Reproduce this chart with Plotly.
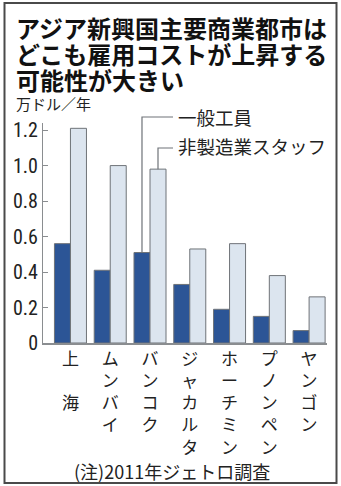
import plotly.graph_objects as go

cities = ["上<br> <br>海", "ム<br>ン<br>バ<br>イ", "バ<br>ン<br>コ<br>ク", "ジ<br>ャ<br>カ<br>ル<br>タ",
          "ホ<br>ー<br>チ<br>ミ<br>ン", "プ<br>ノ<br>ン<br>ペ<br>ン", "ヤ<br>ン<br>ゴ<br>ン"]
workers = [0.56, 0.41, 0.51, 0.33, 0.19, 0.15, 0.07]
staff = [1.21, 1.00, 0.98, 0.53, 0.56, 0.38, 0.26]
tick_vals = [0, 0.2, 0.4, 0.6, 0.8, 1.0, 1.2]
tick_text = ["0", "0.2", "0.4", "0.6", "0.8", "1.0", "1.2"]
title_lines = ["アジア新興国主要商業都市は", "どこも雇用コストが上昇する", "可能性が大きい"]

W, H = 341, 486
ML, MR, MT, MB = 43, 14, 123, 143
PW, PH = W - ML - MR, H - MT - MB
YMAX = 1.24
XR = [-0.69, 6.45]
JP = "Noto Sans CJK JP, Noto Sans, sans-serif"
NUM = "Liberation Sans Narrow, Roboto Condensed, Arial Narrow, Liberation Sans, sans-serif"

def px_to_py(py):  # pixel y -> paper y
    return (H - MB - py) / PH

def px_to_px(px):  # pixel x -> paper x
    return (px - ML) / PW

def px_to_dx(px):  # pixel x -> data x
    return (px - ML) / PW * (XR[1] - XR[0]) + XR[0]

x = list(range(len(cities)))
fig = go.Figure()
fig.add_bar(x=x, y=workers, name="一般工員", marker=dict(color="#2c5596", line=dict(color="#6f7378", width=1)))
fig.add_bar(x=x, y=staff, name="非製造業スタッフ", marker=dict(color="#dce5ef", line=dict(color="#6f7378", width=1)))

fig.update_layout(
    width=W, height=H, margin=dict(l=ML, r=MR, t=MT, b=MB),
    paper_bgcolor="white", plot_bgcolor="white",
    barmode="group", bargap=0.195, bargroupgap=0,
    showlegend=False,
    xaxis=dict(range=XR, tickvals=x, ticktext=cities, showgrid=False, zeroline=False,
               showline=True, linecolor="#8a8d90", linewidth=1.5, ticks="",
               tickfont=dict(family=JP, size=17, color="#222"), tickangle=0),
    yaxis=dict(range=[0, YMAX], tickvals=tick_vals, ticktext=tick_text, showgrid=False, zeroline=False,
               showline=True, linecolor="#8a8d90", linewidth=1, ticks="inside", ticklen=5, tickcolor="#8a8d90",
               tickfont=dict(family=NUM, size=20, color="#222")),
)

# leader lines from Bangkok bars to legend labels
groupw = 1 - 0.195
barw = groupw / 2
bi = 2
xd = bi - barw / 2
xl = bi + barw / 2
x_end = px_to_dx(173)
y1 = px_to_py(117)
y2 = px_to_py(148)
fig.add_shape(type="path", xref="x", yref="paper",
              path=f"M {xd} {workers[bi]/YMAX} L {xd} {y1} L {x_end} {y1}",
              line=dict(color="#6f7378", width=1.2))
fig.add_shape(type="path", xref="x", yref="paper",
              path=f"M {xl} {staff[bi]/YMAX} L {xl} {y2} L {x_end} {y2}",
              line=dict(color="#6f7378", width=1.2))
fig.add_annotation(x=px_to_dx(176), xref="x", y=y1, yref="paper", text="一般工員", showarrow=False,
                   xanchor="left", yanchor="middle", font=dict(family=JP, size=18.5, color="#222"))
fig.add_annotation(x=px_to_dx(176), xref="x", y=y2 + 0.01, yref="paper", text="非製造業スタッフ", showarrow=False,
                   xanchor="left", yanchor="middle", font=dict(family=JP, size=18.5, color="#222"))

# title
for i, (line, cy) in enumerate(zip(title_lines, [28, 54, 79])):
    fig.add_annotation(x=px_to_px(14), xref="paper", y=px_to_py(cy), yref="paper", text=f"<b>{line}</b>",
                       showarrow=False, xanchor="left", yanchor="middle",
                       font=dict(family=JP, size=24, color="#111"))
fig.add_annotation(x=px_to_px(14), xref="paper", y=px_to_py(104), yref="paper", text="万ドル／年",
                   showarrow=False, xanchor="left", yanchor="middle", font=dict(family=JP, size=15, color="#222"))
fig.add_annotation(x=px_to_px(172), xref="paper", y=px_to_py(471), yref="paper", text="(注)2011年ジェトロ調査",
                   showarrow=False, xanchor="center", yanchor="middle", font=dict(family=JP, size=18, color="#222"))

# frame
fig.add_shape(type="rect", xref="paper", yref="paper",
              x0=px_to_px(4.5), x1=px_to_px(336.5), y0=px_to_py(483), y1=px_to_py(3),
              line=dict(color="#4a4a4a", width=2))

fig.write_html("out.html")
